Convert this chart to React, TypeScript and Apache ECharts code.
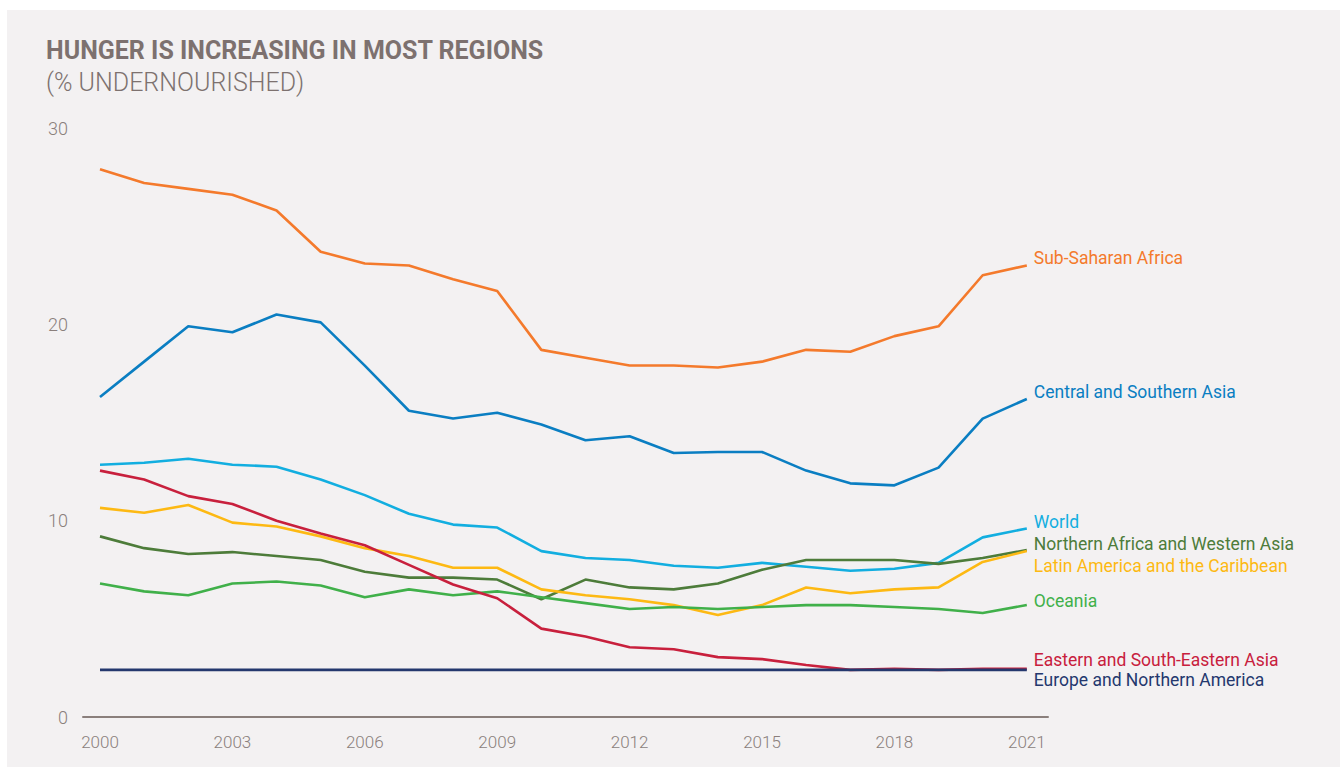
import React, { useEffect, useRef } from "react";
import * as echarts from "echarts";

const years = [2000, 2001, 2002, 2003, 2004, 2005, 2006, 2007, 2008, 2009, 2010, 2011, 2012, 2013, 2014, 2015, 2016, 2017, 2018, 2019, 2020, 2021];
const xTickYears = [2000, 2003, 2006, 2009, 2012, 2015, 2018, 2021];
const yTicks = [0, 10, 20, 30];

const subSaharanAfrica = [27.9, 27.2, 26.9, 26.6, 25.8, 23.7, 23.1, 23.0, 22.3, 21.7, 18.7, 18.3, 17.9, 17.9, 17.8, 18.1, 18.7, 18.6, 19.4, 19.9, 22.5, 23.0];
const centralSouthernAsia = [16.3, 18.1, 19.9, 19.6, 20.5, 20.1, 17.9, 15.6, 15.2, 15.5, 14.9, 14.1, 14.3, 13.45, 13.5, 13.5, 12.55, 11.9, 11.8, 12.7, 15.2, 16.2];
const world = [12.85, 12.95, 13.15, 12.85, 12.75, 12.1, 11.3, 10.35, 9.8, 9.65, 8.45, 8.1, 8.0, 7.7, 7.6, 7.85, 7.65, 7.45, 7.55, 7.85, 9.15, 9.6];
const northernAfricaWesternAsia = [9.2, 8.6, 8.3, 8.4, 8.2, 8.0, 7.4, 7.1, 7.1, 7.0, 6.0, 7.0, 6.6, 6.5, 6.8, 7.5, 8.0, 8.0, 8.0, 7.8, 8.1, 8.5];
const latinAmericaCaribbean = [10.65, 10.4, 10.8, 9.9, 9.7, 9.2, 8.6, 8.2, 7.6, 7.6, 6.5, 6.2, 6.0, 5.7, 5.2, 5.7, 6.6, 6.3, 6.5, 6.6, 7.9, 8.45];
const oceania = [6.8, 6.4, 6.2, 6.8, 6.9, 6.7, 6.1, 6.5, 6.2, 6.4, 6.1, 5.8, 5.5, 5.6, 5.5, 5.6, 5.7, 5.7, 5.6, 5.5, 5.3, 5.7];
const easternSouthEasternAsia = [12.55, 12.1, 11.25, 10.85, 10.0, 9.35, 8.75, 7.75, 6.75, 6.05, 4.5, 4.1, 3.55, 3.45, 3.05, 2.95, 2.65, 2.4, 2.45, 2.4, 2.45, 2.45];
const europeNorthernAmerica = [2.4, 2.4, 2.4, 2.4, 2.4, 2.4, 2.4, 2.4, 2.4, 2.4, 2.4, 2.4, 2.4, 2.4, 2.4, 2.4, 2.4, 2.4, 2.4, 2.4, 2.4, 2.4];

const seriesDefs = [
  { name: "Sub-Saharan Africa", data: subSaharanAfrica, color: "#f47a2c", dy: -7 },
  { name: "Central and Southern Asia", data: centralSouthernAsia, color: "#0a7ec2", dy: -7 },
  { name: "World", data: world, color: "#12aee0", dy: -7 },
  { name: "Northern Africa and Western Asia", data: northernAfricaWesternAsia, color: "#4d7c3a", dy: -6 },
  { name: "Latin America and the Caribbean", data: latinAmericaCaribbean, color: "#fdb913", dy: 15 },
  { name: "Oceania", data: oceania, color: "#40b04a", dy: -4 },
  { name: "Eastern and South-Eastern Asia", data: easternSouthEasternAsia, color: "#c8203d", dy: -9 },
  { name: "Europe and Northern America", data: europeNorthernAmerica, color: "#24386e", dy: 10 },
];

const LABEL_FONT = "Roboto, sans-serif";

export default function App() {
  const ref = useRef<HTMLDivElement>(null);
  useEffect(() => {
    if (!ref.current) return;
    const chart = echarts.init(ref.current, null, { renderer: "svg" });
    chart.setOption({
      animation: false,
      backgroundColor: "#ffffff",
      graphic: [
        { type: "rect", shape: { x: 7, y: 10, width: 1333, height: 757 }, style: { fill: "#f3f1f2" }, z: -10 },
        {
          type: "text", left: 46, top: 38,
          style: { text: "HUNGER IS INCREASING IN MOST REGIONS", fill: "#7d716f", font: "bold 25px Roboto, sans-serif" },
        },
        {
          type: "text", left: 46, top: 70,
          style: { text: "(% UNDERNOURISHED)", fill: "#7d716f", font: "300 25px Roboto, sans-serif" },
        },
      ],
      grid: { left: 83, right: 292, top: 128, bottom: 50, containLabel: false },
      xAxis: {
        type: "value",
        min: 1999.615,
        max: 2021.48,
        splitLine: { show: false },
        axisTick: { show: false },
        axisLine: { show: true, lineStyle: { color: "#8a7f7c", width: 2 } },
        axisLabel: {
          customValues: xTickYears,
          formatter: (v: number) => String(v),
          color: "#8a7f7c",
          fontSize: 17,
          fontWeight: 300,
          fontFamily: LABEL_FONT,
          margin: 16,
        },
      },
      yAxis: {
        type: "value",
        min: 0,
        max: 30,
        interval: 10,
        splitLine: { show: false },
        axisTick: { show: false },
        axisLine: { show: false },
        axisLabel: {
          customValues: yTicks,
          color: "#8a7f7c",
          fontSize: 18,
          fontWeight: 300,
          fontFamily: LABEL_FONT,
          margin: 15,
        },
      },
      series: seriesDefs.map((s) => ({
        name: s.name,
        type: "line",
        data: s.data.map((v, i) => [years[i], v]),
        symbol: "none",
        lineStyle: { color: s.color, width: 2.6 },
        itemStyle: { color: s.color },
        endLabel: {
          show: true,
          formatter: s.name,
          color: s.color,
          fontSize: 17.5,
          fontFamily: LABEL_FONT,
          distance: 7,
          offset: [0, s.dy],
        },
      })),
    });
    return () => chart.dispose();
  }, []);
  return (
    <div
      ref={ref}
      style={{ position: "fixed", left: 0, top: 0, width: 1340, height: 767 }}
    />
  );
}
